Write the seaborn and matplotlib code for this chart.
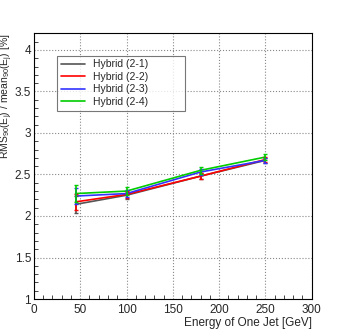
import seaborn as sns
import matplotlib
matplotlib.use("Agg")
import matplotlib.pyplot as plt
import pandas as pd
from matplotlib.ticker import MultipleLocator, FormatStrFormatter

# Datos
energy = [45, 100, 180, 250]
labels = ['Hybrid (2-1)', 'Hybrid (2-2)', 'Hybrid (2-3)', 'Hybrid (2-4)']
res_21 = [2.14, 2.25, 2.48, 2.67]
res_22 = [2.17, 2.26, 2.48, 2.68]
res_23 = [2.24, 2.27, 2.53, 2.67]
res_24 = [2.27, 2.30, 2.55, 2.71]
err_21 = [0.10, 0.04, 0.04, 0.03]
err_22 = [0.10, 0.04, 0.04, 0.03]
err_23 = [0.10, 0.04, 0.04, 0.03]
err_24 = [0.10, 0.05, 0.04, 0.04]
colors = ['#555555', '#ff0000', '#3333ff', '#00cc00']

rows = []
for lab, vals, errs in zip(labels, [res_21, res_22, res_23, res_24],
                           [err_21, err_22, err_23, err_24]):
    for e, v, s in zip(energy, vals, errs):
        rows.append({'energy': e, 'res': v, 'err': s, 'sample': lab})
df = pd.DataFrame(rows)

sns.set_style('white')
plt.rcParams['font.family'] = ['Liberation Sans', 'DejaVu Sans']
plt.rcParams['mathtext.fontset'] = 'custom'
plt.rcParams['mathtext.rm'] = 'Liberation Sans'
plt.rcParams['mathtext.it'] = 'Liberation Sans'

fig = plt.figure(figsize=(3.46, 3.33), dpi=100)
ax = fig.add_axes([0.098, 0.102, 0.803, 0.798])

sns.lineplot(data=df, x='energy', y='res', hue='sample', palette=colors,
             linewidth=1.2, ax=ax, legend=True)
for lab, col in zip(labels, colors):
    sub = df[df['sample'] == lab]
    ax.errorbar(sub['energy'], sub['res'], yerr=sub['err'], fmt='none',
                ecolor=col, elinewidth=1.2, capsize=1.5)

ax.set_xlim(0, 300)
ax.set_ylim(1, 4.2)
ax.xaxis.set_major_locator(MultipleLocator(50))
ax.xaxis.set_minor_locator(MultipleLocator(10))
ax.yaxis.set_major_locator(MultipleLocator(0.5))
ax.yaxis.set_minor_locator(MultipleLocator(0.1))
ax.yaxis.set_major_formatter(FormatStrFormatter('%g'))
ax.tick_params(which='both', direction='in', labelsize=8.5, top=False, right=False)
ax.tick_params(which='major', length=6)
ax.tick_params(axis='y', pad=2)
ax.tick_params(which='minor', length=3, bottom=True, left=True)
ax.grid(True, which='major', linestyle=':', color='#888888', linewidth=0.8)
for sp in ax.spines.values():
    sp.set_color('black')
    sp.set_linewidth(0.8)

ax.set_xlabel('Energy of One Jet [GeV]', fontsize=8.5, loc='right', labelpad=1)
ax.set_ylabel(r'RMS$_{90}$(E$_j$) / mean$_{90}$(E$_j$) [%]', fontsize=7.5,
              loc='top', va='center')
ax.yaxis.set_label_coords(-0.096, 1.0)

leg = ax.legend(loc='upper left', bbox_to_anchor=(0.065, 0.752, 0.497, 0.184),
                mode='expand', fontsize=7.5, frameon=True, fancybox=False,
                borderpad=0.35, handlelength=2.3, handletextpad=0.8,
                labelspacing=0.25)
leg.get_frame().set_edgecolor('#555555')
leg.get_frame().set_linewidth(0.8)

fig.savefig('out.png', dpi=100)
